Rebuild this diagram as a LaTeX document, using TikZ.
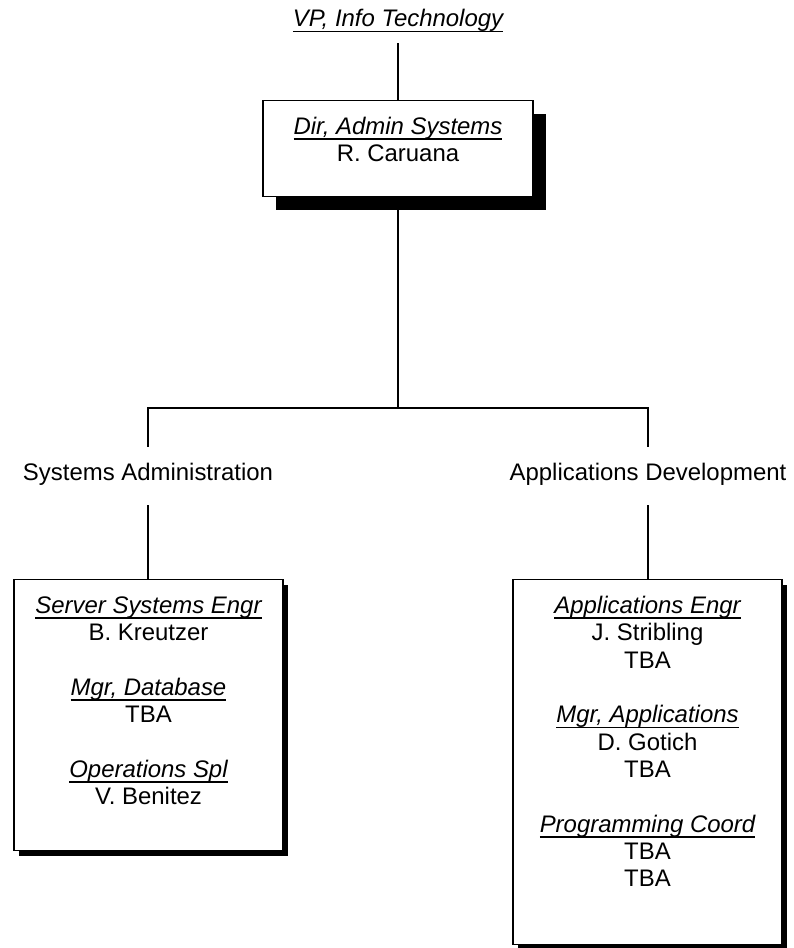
\documentclass[tikz,border=0pt]{standalone}
\usepackage{fontspec}
\setmainfont{Liberation Sans}
\usetikzlibrary{shadows}
\newsavebox\ulbox
\newcommand\ulx[1]{\sbox\ulbox{\itshape #1}\rlap{\rule[-3.95pt]{\wd\ulbox}{1.1pt}}\usebox\ulbox}
\newcommand\firstline{\rule{0pt}{14pt}}
\begin{document}
\begin{tikzpicture}[x=0.75pt,y=-0.75pt,
  every node/.style={font=\fontsize{17.95pt}{20.5pt}\selectfont, inner sep=0pt},
  conn/.style={draw=black, line width=1.15pt},
  bigbox/.style={draw=black, fill=white, line width=1.1pt, minimum width=202.5pt, minimum height=72pt, anchor=north,
    drop shadow={shadow xshift=10.1pt, shadow yshift=-10.1pt, fill=black, opacity=1}},
  unitbox/.style={draw=black, fill=white, line width=1.1pt, minimum width=201.75pt, anchor=north,
    drop shadow={shadow xshift=3.75pt, shadow yshift=-3.75pt, fill=black, opacity=1}},
  boxtext/.style={align=center, anchor=north},
  label/.style={anchor=base, text height=12.5pt, text depth=3.8pt}
]
\useasboundingbox (0,0) rectangle (793,948);

% top title
\node[label] (vp) at (398,27) {\ulx{VP, Info Technology}};

% director box
\node[bigbox] (dir) at (398,100) {};
\node[boxtext] (dirtext) at (398,115.7) {\firstline\ulx{Dir, Admin Systems}\\R. Caruana};

% unit labels
\node[label] (sa) at (148,480) {Systems Administration};
\node[label] (ad) at (648,480) {Applications Development};

% unit boxes
\node[unitbox, minimum height=203.25pt] (sl) at (148.5,579) {};
\node[boxtext] (sltext) at (148.5,594.7) {\firstline\ulx{Server Systems Engr}\\B. Kreutzer\\[20.5pt]\ulx{Mgr, Database}\\TBA\\[20.5pt]\ulx{Operations Spl}\\V. Benitez};

\node[unitbox, minimum height=273.75pt] (al) at (647.5,579) {};
\node[boxtext] (altext) at (647.5,594.7) {\firstline\ulx{Applications Engr}\\J. Stribling\\TBA\\[20.5pt]\ulx{Mgr, Applications}\\D. Gotich\\TBA\\[20.5pt]\ulx{Programming Coord}\\TBA\\TBA};

% connectors
\coordinate (bar) at (398,408);
\draw[conn, shorten <=8.2pt] (vp.south) -- (dir.north);
\draw[conn] (dir.south) -- (bar);
\draw[conn, shorten >=12.2pt] (bar) -| (sa.north);
\draw[conn, shorten >=12.2pt] (bar) -| (ad.north);
\draw[conn, shorten <=14.9pt] (sa.south) -- (sa.south |- sl.north);
\draw[conn, shorten <=14.9pt] (ad.south) -- (ad.south |- al.north);
\end{tikzpicture}
\end{document}
